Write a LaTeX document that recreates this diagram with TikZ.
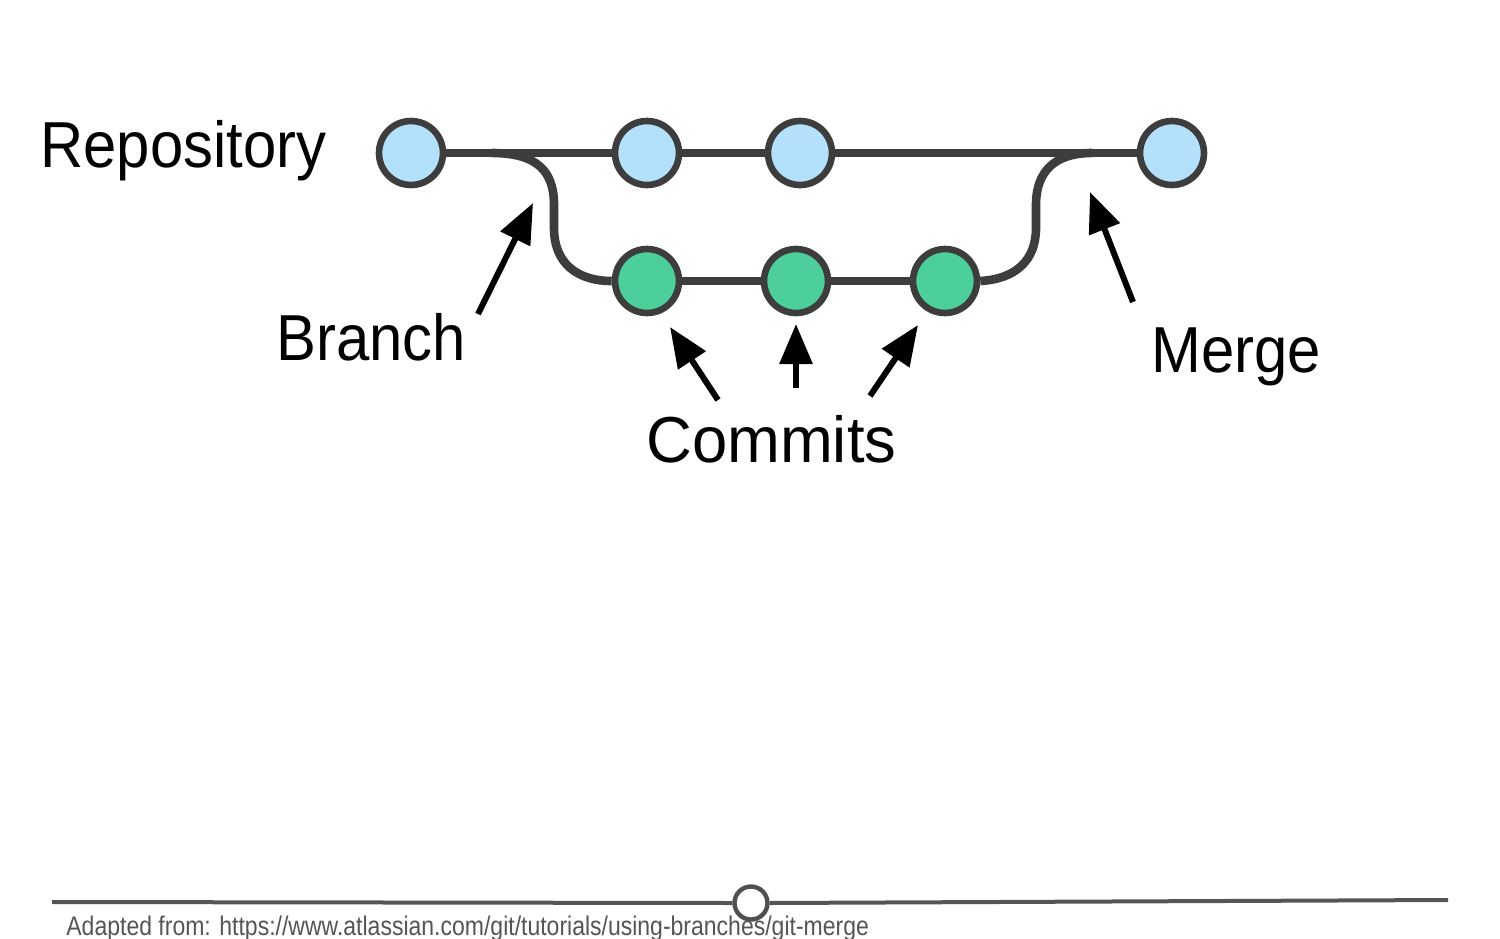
\documentclass[tikz,border=0pt]{standalone}
\usepackage{fontspec}
\setmainfont{Liberation Sans}
\newfontfamily\labelfont{Liberation Sans}[FakeStretch=0.92]
\newfontfamily\widelabelfont{Liberation Sans}[FakeStretch=0.975]
\newfontfamily\footfont{Liberation Sans}[FakeStretch=0.852]
\usetikzlibrary{arrows.meta}
\definecolor{edgegray}{HTML}{3D3D3D}
\definecolor{repoblue}{HTML}{B3E0FA}
\definecolor{commitgreen}{HTML}{4CCF9B}
\definecolor{footgray}{HTML}{555555}
\tikzset{
  repo/.style={circle, draw=edgegray, fill=repoblue, line width=3.3pt, minimum size=32pt, inner sep=0pt},
  commit/.style={circle, draw=edgegray, fill=commitgreen, line width=3.3pt, minimum size=32pt, inner sep=0pt},
  gitline/.style={draw=edgegray, line width=4.3pt},
  pointer/.style={draw=black, line width=3pt, -{Triangle[length=20pt,width=16pt]}},
  lbl/.style={anchor=base west, inner sep=0pt, font=\labelfont\fontsize{32.5pt}{36pt}\selectfont},
}
\begin{document}
\begin{tikzpicture}[x=0.5pt,y=-0.5pt]
\useasboundingbox (0,0) rectangle (1500,938);
% nodes
\node[repo] (r1) at (411,153) {};
\node[repo] (r2) at (647,153) {};
\node[repo] (r3) at (800,153) {};
\node[repo] (r4) at (1172,153) {};
\node[commit] (c1) at (647,281) {};
\node[commit] (c2) at (796,281) {};
\node[commit] (c3) at (945,281) {};
\coordinate (brs) at (492,153);
\coordinate (mrg) at (1092,153);
% main line
\draw[gitline] (r1) -- (r2);
\draw[gitline] (r2) -- (r3);
\draw[gitline] (r3) -- (r4);
\draw[gitline] (c1) -- (c2);
\draw[gitline] (c2) -- (c3);
% branch & merge curves
\draw[gitline] (brs) .. controls (538,153) and (554,172) .. (554,205) -- (554,228) .. controls (554,264) and (578,281) .. (c1.west);
\draw[gitline] (c3.east) .. controls (1016,279) and (1036,260) .. (1036,228) -- (1036,205) .. controls (1036,172) and (1054,153) .. (mrg);
% labels
\node[lbl] (repo) at (40,167) {Repository};
\node[lbl] (branch) at (276,360) {Branch};
\node[lbl] (merge) at (1151,372) {Merge};
\node[lbl, font=\widelabelfont\fontsize{32.5pt}{36pt}\selectfont] (commits) at (646,462) {Commits};
% arrows
\coordinate (bt) at (478,314);
\coordinate (bh) at (533,203);
\coordinate (m0) at (1133,302);
\coordinate (m1) at (1090,192);
\coordinate (k1t) at (718,400);
\coordinate (k1h) at (670,327);
\coordinate (k2t) at (796,388);
\coordinate (k2h) at (796,324);
\coordinate (k3t) at (870,396);
\coordinate (k3h) at (918,325);
\draw[pointer] (bt) -- (bh);
\draw[pointer] (m0) -- (m1);
\draw[pointer] (k1t) -- (k1h);
\draw[pointer] (k2t) -- (k2h);
\draw[pointer] (k3t) -- (k3h);
% footer
\node[circle, draw=edgegray!90, fill=white, line width=2.2pt, minimum size=16.5pt, inner sep=0pt] (dot) at (751,903) {};
\coordinate (fl) at (52,902);
\coordinate (fr) at (1448,900);
\draw[draw=footgray, line width=2pt] (fl) -- (dot.west);
\draw[draw=footgray, line width=2pt] (dot.east) -- (fr);
\node[anchor=base west, inner sep=0pt, text=footgray, font=\footfont\fontsize{13.5pt}{16pt}\selectfont] (foot) at (66,935) {Adapted from: https://www.atlassian.com/git/tutorials/using-branches/git-merge};
\end{tikzpicture}
\end{document}
